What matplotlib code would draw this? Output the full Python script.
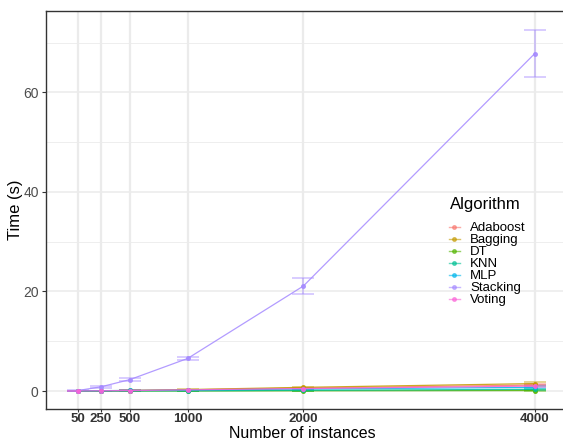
import matplotlib.pyplot as plt
from matplotlib.lines import Line2D
from matplotlib.ticker import FixedLocator

plt.rcParams["font.family"] = ["Liberation Sans", "DejaVu Sans"]

instances = [50, 250, 500, 1000, 2000, 4000]
algorithms = ["Adaboost", "Bagging", "DT", "KNN", "MLP", "Stacking", "Voting"]
colors = ["#F8766D", "#C49A00", "#53B400", "#00C094", "#00B6EB", "#A58AFF", "#FB61D7"]

# mean time (s) per algorithm
adaboost = [0.02, 0.05, 0.10, 0.25, 0.60, 1.20]
bagging = [0.02, 0.06, 0.12, 0.30, 0.75, 1.50]
dt = [0.00, 0.00, 0.01, 0.02, 0.05, 0.10]
knn = [0.01, 0.02, 0.03, 0.06, 0.15, 0.35]
mlp = [0.05, 0.08, 0.12, 0.20, 0.40, 0.75]
stacking = [0.10, 0.85, 2.30, 6.55, 21.1, 67.8]
voting = [0.03, 0.06, 0.10, 0.25, 0.50, 1.00]

# standard deviations (error bars)
adaboost_sd = [0.01, 0.01, 0.02, 0.04, 0.10, 0.20]
bagging_sd = [0.01, 0.01, 0.02, 0.05, 0.15, 0.25]
dt_sd = [0.00, 0.00, 0.00, 0.01, 0.01, 0.02]
knn_sd = [0.00, 0.01, 0.01, 0.02, 0.04, 0.08]
mlp_sd = [0.02, 0.02, 0.03, 0.05, 0.10, 0.20]
stacking_sd = [0.02, 0.20, 0.30, 0.35, 1.60, 4.75]
voting_sd = [0.01, 0.01, 0.02, 0.04, 0.10, 0.15]

means = [adaboost, bagging, dt, knn, mlp, stacking, voting]
sds = [adaboost_sd, bagging_sd, dt_sd, knn_sd, mlp_sd, stacking_sd, voting_sd]

fig = plt.figure(figsize=(5.63, 4.41), dpi=100)
ax = fig.add_axes([0.081, 0.0726, 0.926, 0.902])

for name, col, m, s in zip(algorithms, colors, means, sds):
    ax.errorbar(instances, m, yerr=s, fmt="none", ecolor=col, alpha=0.5,
                elinewidth=1.2, capsize=8, capthick=1.2, zorder=3)
    ax.plot(instances, m, color=col, lw=0.9, alpha=0.85, marker="o", ms=2.6,
            zorder=4, label=name)

ax.set_xlim(-228, 4278)
ax.set_ylim(-3.6, 76.3)
ax.set_xticks(instances)
ax.set_xticklabels([str(v) for v in instances], fontweight="bold", fontsize=9.5,
                   color="#333333")
ax.set_yticks([0, 20, 40, 60])
ax.yaxis.set_minor_locator(FixedLocator([10, 30, 50, 70]))
ax.tick_params(axis="y", labelsize=10, labelcolor="#4D4D4D", color="#333333",
               length=3, width=0.8, pad=2)
ax.tick_params(axis="x", color="#333333", length=2.5, width=0.8, pad=0.5)
ax.tick_params(which="minor", length=0)

ax.grid(True, which="major", axis="x", color="#EBEBEB", lw=1.6)
ax.grid(True, which="major", axis="y", color="#EBEBEB", lw=1.1)
ax.grid(True, which="minor", axis="y", color="#EBEBEB", lw=0.6)
ax.set_axisbelow(True)
for sp in ax.spines.values():
    sp.set_color("#333333")
    sp.set_linewidth(1.0)

fig.text(302 / 563, 0.5 / 441, "Number of instances", fontsize=11.5,
         ha="center", va="bottom")
ax.set_ylabel("Time (s)", fontsize=12, labelpad=0)

handles = [Line2D([0], [0], color=c, lw=1, marker="o", ms=2.6, alpha=0.6)
           for c in colors]
leg = fig.legend(handles, algorithms, loc="upper left",
                 bbox_to_anchor=(0.7815, 0.517), frameon=False, fontsize=9.5,
                 labelspacing=-0.02, handlelength=0.8, handletextpad=0.8,
                 borderpad=0.2)
fig.text(450 / 563, 1 - 204 / 441, "Algorithm", fontsize=12, ha="left",
         va="center")

fig.savefig("out.png", dpi=100)
